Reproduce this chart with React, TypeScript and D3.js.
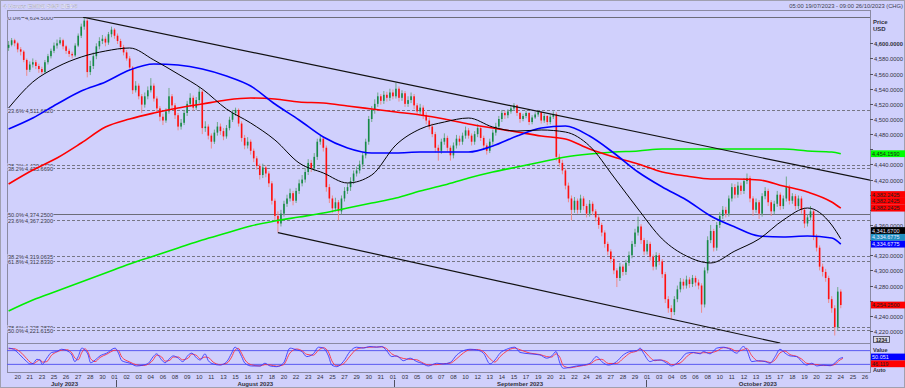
import React, { useEffect, useRef } from "react";
import * as d3 from "d3";

// 4h candles, 19/07/2023 05:00 -> 24/10/2023 (open of each bar = previous close)
const firstOpen = 4594;
const closes = [
  4598, 4604, 4600, 4592, 4589, 4578, 4565, 4572, 4575, 4570,
  4566, 4562, 4575, 4583, 4590, 4597, 4600, 4604, 4596, 4590,
  4586, 4584, 4597, 4610, 4622, 4630, 4562, 4570, 4583, 4596,
  4603, 4606, 4601, 4612, 4618, 4610, 4603, 4595, 4588, 4580,
  4568, 4538, 4544, 4530, 4519, 4530, 4538, 4544, 4527, 4514,
  4503, 4498, 4510, 4530, 4518, 4505, 4490, 4495, 4508, 4520,
  4528, 4515, 4525, 4536, 4488, 4490, 4478, 4470, 4482, 4490,
  4484, 4477, 4488, 4499, 4508, 4512, 4494, 4475, 4465, 4470,
  4458, 4448, 4438, 4426, 4436, 4428, 4415, 4392, 4372, 4362,
  4375, 4388, 4395, 4402, 4392, 4405, 4415, 4420, 4430, 4442,
  4435, 4450, 4470, 4474, 4462, 4410, 4395, 4382, 4390, 4378,
  4395, 4405, 4410, 4418, 4428, 4432, 4440, 4452, 4470, 4500,
  4512, 4520, 4530, 4524, 4532, 4528, 4535, 4530, 4540, 4528,
  4534, 4520, 4525, 4530, 4518, 4510, 4515, 4505, 4498, 4490,
  4480, 4462, 4458, 4470, 4475, 4462, 4452, 4465, 4474, 4470,
  4478, 4485, 4478, 4470, 4480, 4488, 4475, 4465, 4458, 4470,
  4482, 4490, 4500, 4508, 4505, 4510, 4514, 4518, 4508, 4500,
  4504, 4508, 4496, 4502, 4506, 4509, 4498, 4504, 4496, 4503,
  4506, 4450, 4442, 4432, 4412, 4395, 4380, 4392, 4380, 4395,
  4385, 4375, 4388, 4378, 4370, 4360, 4350, 4335, 4325, 4315,
  4300, 4290, 4305, 4298, 4310, 4320, 4335, 4350, 4358, 4340,
  4325, 4335, 4318, 4305, 4320, 4312, 4295, 4262, 4250, 4245,
  4262, 4275, 4285, 4280, 4288, 4282, 4290, 4284, 4280, 4255,
  4300, 4340, 4352, 4330, 4360, 4372, 4380, 4375, 4395, 4410,
  4400, 4412, 4405, 4418, 4422, 4395, 4380, 4390, 4375, 4398,
  4405, 4390, 4378, 4388, 4400, 4385, 4395, 4410, 4392, 4398,
  4385, 4395, 4380, 4362, 4370, 4378, 4345, 4330, 4305, 4298,
  4290, 4262, 4250, 4225, 4272, 4254.25,
];
const highs = [
  4603, 4607, 4606, 4602, 4595, 4591, 4580, 4576, 4580, 4578,
  4573, 4569, 4578, 4586, 4593, 4601, 4605, 4608, 4606, 4598,
  4593, 4589, 4600, 4613, 4626, 4634.5, 4632, 4577, 4588, 4600,
  4608, 4611, 4609, 4615, 4622, 4620, 4613, 4606, 4598, 4591,
  4583, 4570, 4550, 4547, 4533, 4535, 4543, 4554, 4547, 4530,
  4517, 4507, 4514, 4541, 4533, 4521, 4508, 4500, 4512, 4524,
  4534, 4531, 4529, 4542, 4539, 4497, 4493, 4481, 4486, 4496,
  4494, 4488, 4492, 4503, 4512, 4515, 4514, 4497, 4479, 4476,
  4473, 4461, 4451, 4441, 4441, 4439, 4431, 4418, 4395, 4378,
  4380, 4392, 4400, 4408, 4405, 4409, 4420, 4426, 4435, 4447,
  4446, 4455, 4474, 4478, 4477, 4465, 4414, 4399, 4396, 4393,
  4399, 4410, 4415, 4423, 4432, 4437, 4445, 4456, 4474, 4504,
  4517, 4526, 4535, 4533, 4537, 4536, 4540, 4539, 4548, 4543,
  4538, 4537, 4530, 4535, 4533, 4521, 4520, 4518, 4509, 4502,
  4494, 4483, 4466, 4474, 4481, 4478, 4465, 4469, 4479, 4478,
  4482, 4490, 4488, 4481, 4484, 4493, 4491, 4478, 4468, 4474,
  4486, 4495, 4504, 4512, 4511, 4513, 4517, 4521, 4519, 4509,
  4507, 4511, 4509, 4505, 4509, 4512, 4510, 4507, 4505, 4506,
  4510, 4509, 4454, 4446, 4435, 4416, 4399, 4397, 4395, 4400,
  4398, 4388, 4393, 4391, 4381, 4373, 4363, 4353, 4338, 4328,
  4318, 4303, 4310, 4308, 4314, 4325, 4339, 4355, 4371, 4361,
  4343, 4340, 4338, 4321, 4324, 4323, 4315, 4298, 4266, 4254,
  4266, 4280, 4290, 4289, 4293, 4291, 4294, 4293, 4288, 4283,
  4304, 4345, 4360, 4355, 4364, 4377, 4385, 4384, 4399, 4415,
  4414, 4417, 4416, 4422, 4428, 4425, 4398, 4395, 4393, 4402,
  4410, 4408, 4393, 4392, 4405, 4403, 4399, 4424, 4413, 4402,
  4401, 4399, 4398, 4383, 4374, 4385, 4380, 4348, 4333, 4309,
  4302, 4293, 4266, 4254, 4278, 4275,
];
const lows = [
  4590, 4596, 4596, 4588, 4584, 4575, 4557, 4562, 4568, 4566,
  4561, 4559, 4560, 4572, 4580, 4587, 4593, 4598, 4592, 4586,
  4582, 4580, 4582, 4595, 4607, 4618, 4555, 4558, 4566, 4579,
  4592, 4599, 4596, 4598, 4608, 4606, 4599, 4591, 4584, 4577,
  4564, 4533, 4535, 4526, 4508, 4515, 4526, 4535, 4523, 4509,
  4497, 4492, 4495, 4507, 4513, 4500, 4485, 4486, 4492, 4504,
  4516, 4511, 4512, 4521, 4480, 4483, 4473, 4461, 4467, 4478,
  4479, 4472, 4474, 4485, 4496, 4504, 4490, 4470, 4460, 4461,
  4453, 4443, 4433, 4420, 4422, 4423, 4410, 4387, 4366, 4350,
  4358, 4371, 4384, 4391, 4386, 4389, 4401, 4411, 4416, 4426,
  4430, 4431, 4446, 4466, 4457, 4404, 4389, 4376, 4378, 4366,
  4374, 4391, 4401, 4405, 4414, 4424, 4428, 4436, 4448, 4466,
  4496, 4507, 4516, 4519, 4520, 4523, 4524, 4526, 4527, 4523,
  4524, 4516, 4516, 4521, 4513, 4506, 4506, 4500, 4493, 4486,
  4476, 4456, 4445, 4454, 4466, 4457, 4445, 4448, 4461, 4465,
  4466, 4474, 4474, 4465, 4466, 4476, 4471, 4460, 4453, 4455,
  4466, 4478, 4486, 4496, 4500, 4501, 4507, 4511, 4504, 4495,
  4497, 4501, 4492, 4493, 4500, 4503, 4494, 4495, 4492, 4493,
  4500, 4445, 4437, 4427, 4407, 4390, 4366, 4376, 4375, 4376,
  4380, 4370, 4371, 4373, 4365, 4355, 4345, 4330, 4320, 4310,
  4295, 4278, 4286, 4293, 4294, 4306, 4316, 4331, 4346, 4335,
  4320, 4321, 4313, 4300, 4301, 4307, 4290, 4257, 4244, 4236,
  4241, 4258, 4271, 4275, 4276, 4277, 4278, 4279, 4275, 4244,
  4251, 4296, 4336, 4325, 4326, 4356, 4368, 4370, 4371, 4391,
  4395, 4396, 4400, 4401, 4414, 4390, 4372, 4376, 4368, 4371,
  4394, 4385, 4372, 4374, 4384, 4380, 4381, 4391, 4387, 4388,
  4380, 4381, 4375, 4356, 4358, 4366, 4340, 4325, 4300, 4292,
  4285, 4257, 4244, 4214, 4220, 4250,
];

// moving averages read at every 8th bar
const maIdx = [0, 8, 16, 24, 32, 40, 48, 56, 64, 72, 80, 88, 96, 104, 112, 120, 128, 136,
  144, 152, 160, 168, 176, 184, 192, 200, 208, 216, 224, 232, 240, 248, 256, 264, 272, 275];
const maBlack = [4514.5, 4548.9, 4568.7, 4581.9, 4589.8, 4593.8, 4577.9, 4559.4, 4539.6, 4513.2,
  4494.7, 4472.3, 4441.9, 4428.7, 4415.5, 4426, 4465.7, 4486.8, 4496, 4501.3, 4489.4, 4484.1,
  4485.5, 4482.8, 4464.3, 4423.4, 4381.1, 4341.5, 4319, 4309.8, 4325.6, 4341.5, 4366.6, 4382.4,
  4360, 4341.67];
const maBlue = [4486.8, 4501.3, 4519.8, 4537, 4548.9, 4564.7, 4572.7, 4571.3, 4566.1, 4556.8,
  4543.6, 4519.8, 4498.7, 4476.2, 4461.7, 4455.1, 4455.1, 4456.4, 4456.4, 4456.4, 4464.3, 4477.5,
  4488.1, 4490.8, 4477.5, 4455.1, 4430, 4410.2, 4393, 4371.9, 4357.3, 4345.4, 4344.1, 4345.4,
  4342.8, 4334.6775];
const maRed = [4414.1, 4432.6, 4448.5, 4468.3, 4489.4, 4500, 4507.9, 4514.5, 4519.8, 4525.1,
  4527.7, 4526.4, 4522.5, 4521.1, 4517.2, 4513.2, 4509.2, 4505.3, 4500, 4493.4, 4488.1, 4482.8,
  4477.5, 4473.6, 4460.4, 4449.8, 4440.6, 4430, 4424.7, 4420.7, 4420.7, 4419.4, 4411.5, 4403.6,
  4390.4, 4382.2425];
const maGreen = [4246.4, 4260.9, 4272.8, 4284.7, 4296.6, 4308.5, 4319, 4329.6, 4340.2, 4349.4,
  4358.7, 4365.3, 4370.5, 4375.8, 4382.4, 4389, 4395.6, 4404.9, 4412.8, 4422.1, 4430, 4436.6,
  4443.2, 4449.8, 4453.8, 4456.4, 4457.7, 4460.4, 4460.4, 4460.4, 4460.4, 4460.4, 4460.4, 4457.7,
  4456.4, 4454.159];

// fibonacci retracement levels
const fibPct = ["0.0%", "23.6%", "38.2%", "38.2%", "50.0%", "23.6%", "38.2%", "61.8%", "78.6%", "50.0%"];
const fibValues = [4634.5, 4511.662, 4439.672, 4435.669, 4374.25, 4367.23, 4319.0635, 4312.833, 4225.387, 4221.615];

// trend channel: [bar, price] anchors
const upperTrend = [[24.6, 4634.5], [284.7, 4419.1]];
const lowerTrend = [[89, 4350], [255, 4204]];

// stochastic oscillator (bar index, %K, %D)
const oscIdx = [0, 1.6, 3.8, 6, 7.1, 8.2, 9.3, 10.4, 11.1, 12.6, 14.2, 15.9, 17.5, 19.2, 20.9, 21.9,
  23, 24.2, 25.2, 26.3, 27.1, 28.6, 30.2, 32.4, 35.2, 36.3, 37.4, 40.1, 42.3, 44.5, 46.2, 47.8, 48.9,
  50.6, 51.7, 53.3, 54.4, 56.1, 57.5, 59.4, 60.5, 62.2, 63.3, 64.9, 66, 67.6, 69.9, 72.1, 73.7, 74.8,
  75.9, 77, 78.1, 80.3, 83.1, 84.7, 86.4, 88.6, 90.8, 93, 95.2, 96.9, 98.5, 100.7, 102.4, 104, 105.7,
  106.8, 108.4, 110.6, 112.8, 115, 117.2, 119.4, 121.6, 123.3, 124.9, 126.6, 128.3, 130.4, 132.7,
  134.9, 136.5, 138.7, 141.5, 143.6, 145.9, 148.1, 150.3, 152.5, 154.7, 156.9, 159.1, 160.7, 162.4,
  164.6, 167.3, 169, 172.3, 175.6, 177.8, 179.5, 180.9, 182.2, 183.3, 185.5, 187.7, 189.9, 192.1,
  194.3, 196, 198.2, 200.9, 203.1, 205.3, 207.6, 208.7, 209.8, 212, 213.6, 215.3, 217.5, 219.1,
  221.9, 224.1, 226.3, 228.5, 229.6, 231.8, 234, 236.2, 238.4, 240.6, 242.8, 243.9, 245.6, 247.8,
  250, 251.6, 253.3, 254.9, 256.6, 258.2, 260.4, 262.1, 263.7, 265.4, 267.1, 269.2, 271.5, 273.1,
  274.2, 275.7];
const oscK = [91, 86, 61, 32, 22, 25, 42, 39, 20, 47, 72, 76, 86, 80, 61, 32,
  54, 91, 83, 61, 27, 39, 57, 69, 91, 69, 36, 25, 13, 17, 25, 54, 66,
  39, 27, 47, 57, 47, 32, 61, 69, 47, 39, 66, 36, 22, 17, 32, 69, 95,
  83, 54, 25, 13, 13, 25, 13, 10, 25, 91, 83, 76, 54, 66, 95, 91, 57,
  17, 10, 32, 76, 95, 91, 98, 95, 98, 80, 54, 57, 36, 47,
  32, 25, 13, 25, 22, 28, 61, 80, 86, 83, 69, 22, 39, 69,
  86, 95, 72, 66, 61, 47, 57, 76, 25, 3, 7, 13, 17, 25,
  54, 32, 17, 32, 61, 76, 80, 91, 69, 32, 39, 39, 25, 13,
  39, 69, 72, 66, 76, 66, 91, 95, 86, 69, 98, 83, 32, 36,
  32, 25, 54, 86, 69, 57, 54, 32, 17, 25, 13, 17, 14, 27,
  42, 50.051];
const oscD = [88, 89, 75, 45, 30, 23, 32, 40, 30, 32, 60, 74, 82, 84, 70, 48,
  40, 72, 88, 72, 45, 32, 50, 64, 82, 80, 52, 30, 18, 15, 21, 40, 60,
  52, 34, 38, 52, 52, 40, 48, 65, 58, 44, 52, 50, 30, 19, 25, 52, 82,
  90, 68, 40, 18, 13, 19, 18, 12, 18, 70, 87, 80, 64, 60, 82, 93, 74,
  36, 14, 22, 56, 86, 93, 95, 96, 96, 89, 66, 55, 46, 42,
  40, 29, 18, 19, 23, 25, 45, 70, 84, 85, 76, 44, 30, 54,
  78, 91, 84, 69, 63, 54, 52, 66, 50, 14, 5, 10, 15, 21,
  40, 42, 24, 24, 46, 69, 78, 86, 80, 50, 36, 39, 32, 19,
  26, 54, 71, 69, 71, 71, 78, 93, 90, 78, 84, 90, 58, 34,
  34, 28, 40, 70, 78, 63, 55, 43, 25, 21, 19, 15, 15, 20,
  34, 46.119];

// x axis
const dayLabels = ["20", "21", "23", "25", "26", "27", "28", "30",
  "01", "02", "03", "04", "06", "08", "09", "10", "11", "13", "15", "16", "17", "18", "20", "22", "23",
  "24", "25", "27", "29", "30", "31",
  "01", "03", "05", "06", "07", "08", "10", "12", "13", "14", "15", "17", "19", "20", "21", "22", "24",
  "26", "27", "28", "29",
  "01", "03", "04", "05", "06", "08", "10", "11", "12", "13", "15", "17", "18", "19", "20", "22", "24",
  "25", "26"];
const months = ["July 2023", "August 2023", "September 2023", "October 2023"];
const monthBreaks = [35.5, 127.5, 210.5];

const priceTicks = [4220, 4240, 4260, 4280, 4300, 4320, 4340, 4360, 4380, 4400, 4420, 4440,
  4460, 4480, 4500, 4520, 4540, 4560, 4580, 4600];

// last-value tags on the price axis
const tagValues = [4454.159, 4382.2425, 4382.2425, 4382.2425, 4341.67, 4334.6775, 4334.6775, 4254.25];
const tagColors = ["#00ff00", "#ff0000", "#ff0000", "#ff0000", "#000000", "#1f8fc0", "#0000ff", "#ff0000"];

const FONT = "'Liberation Sans', Arial, sans-serif";

export default function App() {
  const svgRef = useRef<SVGSVGElement>(null);

  useEffect(() => {
    if (!svgRef.current) return;
    const svg = d3.select(svgRef.current);
    svg.selectAll("*").remove();

    const L = 7, R = 870, T = 17, B = 343, OB = 372;
    const bg = "#d0d0fc";
    const frame = "#8a8aa2";

    const x = d3.scaleLinear().domain([0, 283]).range([8.6, 865]);
    const y = d3.scaleLinear().domain([4204.1, 4634.74]).range([B, T]);
    const yo = d3.scaleLinear().domain([-12, 112]).range([371.7, 343.3]);

    svg.append("rect").attr("width", 905).attr("height", 388).attr("fill", bg);

    const defs = svg.append("defs");
    defs.append("clipPath").attr("id", "main-clip")
      .append("rect").attr("x", L).attr("y", T).attr("width", R - L).attr("height", B - T);
    defs.append("clipPath").attr("id", "osc-clip")
      .append("rect").attr("x", L).attr("y", B).attr("width", R - L).attr("height", OB - B);

    // window border + frames
    svg.append("rect").attr("x", 0.5).attr("y", 0.5).attr("width", 904).attr("height", 387)
      .attr("fill", "none").attr("stroke", "#a0a0b0");
    svg.append("rect").attr("x", L + 0.5).attr("y", 10.5).attr("width", R - L).attr("height", OB - 10)
      .attr("fill", "none").attr("stroke", frame);
    svg.append("line").attr("x1", L).attr("x2", R).attr("y1", T + 0.5).attr("y2", T + 0.5).attr("stroke", frame);
    svg.append("line").attr("x1", L).attr("x2", R).attr("y1", B + 0.5).attr("y2", B + 0.5).attr("stroke", frame);

    // title + range
    svg.append("text").attr("x", 3).attr("y", 7.5).text("4 Hours EMINI S&P DEC3")
      .style("font-family", FONT).style("font-size", "6.2px").style("font-weight", "bold")
      .attr("fill", "#ffffff").attr("stroke", "#9090b0").attr("stroke-width", 0.25);
    svg.append("text").attr("x", 903).attr("y", 7.5).attr("text-anchor", "end")
      .text("05:00 19/07/2023 - 09:00 26/10/2023 (CHG)")
      .style("font-family", FONT).style("font-size", "5.8px").attr("fill", "#404050");

    const main = svg.append("g").attr("clip-path", "url(#main-clip)");

    // fib levels
    fibValues.forEach((v, i) => {
      const yy = Math.round(y(v)) + 0.5;
      const solid = fibPct[i] === "0.0%" || (fibPct[i] === "50.0%" && v > 4300);
      main.append("line").attr("x1", L).attr("x2", R).attr("y1", yy).attr("y2", yy)
        .attr("stroke", solid ? "#6c6c78" : "#767684").attr("stroke-width", 1)
        .attr("stroke-dasharray", solid ? null : "3,2");
      const lbl = main.append("g");
      const t1 = lbl.append("text").attr("x", L + 1).attr("y", yy + 2).text(fibPct[i])
        .style("font-family", FONT).style("font-size", "5.6px").attr("fill", "#3a3a48");
      const t2 = lbl.append("text").attr("x", 53).attr("y", yy + 2).attr("text-anchor", "end")
        .text(d3.format(",.4f")(v))
        .style("font-family", FONT).style("font-size", "5.6px").attr("fill", "#3a3a48");
      [t1, t2].forEach((t) => {
        const bb = (t.node() as SVGTextElement).getBBox();
        lbl.insert("rect", "text").attr("x", bb.x - 0.5).attr("y", bb.y + 0.5)
          .attr("width", bb.width + 1).attr("height", bb.height - 1).attr("fill", bg);
      });
    });

    // candles
    const bw = 1.6;
    closes.forEach((c, i) => {
      const o = i === 0 ? firstOpen : closes[i - 1];
      const up = c >= o;
      const cx = x(i);
      main.append("line").attr("x1", cx).attr("x2", cx)
        .attr("y1", y(highs[i])).attr("y2", y(lows[i]))
        .attr("stroke", up ? "#6fa88a" : "#ee8a8a").attr("stroke-width", 1);
      const top = y(Math.max(o, c));
      const h = Math.max(1, Math.abs(y(o) - y(c)));
      main.append("rect").attr("x", cx - bw / 2).attr("y", top).attr("width", bw).attr("height", h)
        .attr("fill", up ? "#168a46" : "#ff1010");
    });

    // moving averages
    const maLine = d3.line<number>().x((_, i) => x(maIdx[i])).y((d) => y(d)).curve(d3.curveMonotoneX);
    const mas: [number[], string, number][] = [
      [maGreen, "#00ee00", 1.6],
      [maRed, "#ff0000", 1.6],
      [maBlue, "#0000ff", 1.6],
      [maBlack, "#000000", 1],
    ];
    mas.forEach(([d, col, w]) => {
      main.append("path").datum(d).attr("d", maLine).attr("fill", "none")
        .attr("stroke", col).attr("stroke-width", w);
    });

    // trend channel
    [upperTrend, lowerTrend].forEach((seg) => {
      main.append("line")
        .attr("x1", x(seg[0][0])).attr("y1", y(seg[0][1]))
        .attr("x2", x(seg[1][0])).attr("y2", y(seg[1][1]))
        .attr("stroke", "#111111").attr("stroke-width", 1.2);
    });

    // value tags, stacked upward where they collide
    const tagH = 6.8;
    const order = d3.range(tagValues.length).sort((a, b) => tagValues[a] - tagValues[b] || b - a);
    let prev = Infinity;
    const centers: number[] = [];
    order.forEach((k) => {
      const c = Math.min(y(tagValues[k]), prev - tagH);
      centers[k] = c;
      prev = c;
    });

    // price axis (labels hidden behind a tag are not drawn)
    const ax = svg.append("g");
    priceTicks.forEach((p) => {
      const yy = Math.round(y(p)) + 0.5;
      ax.append("line").attr("x1", R).attr("x2", R + 3).attr("y1", yy).attr("y2", yy).attr("stroke", "#505060");
      const covered = centers.some((c) => Math.abs(c - y(p)) < 4.5);
      if (covered) return;
      ax.append("text").attr("x", R + 4).attr("y", yy + 2).text(d3.format(",.4f")(p))
        .style("font-family", FONT).style("font-size", "5.8px")
        .style("font-weight", p === 4600 ? "bold" : "normal").attr("fill", "#303040");
    });
    ax.append("text").attr("x", R + 3).attr("y", 24).text("Price")
      .style("font-family", FONT).style("font-size", "6px").style("font-weight", "bold").attr("fill", "#303040");
    ax.append("text").attr("x", R + 3).attr("y", 31).text("USD")
      .style("font-family", FONT).style("font-size", "6px").style("font-weight", "bold").attr("fill", "#303040");

    tagValues.forEach((v, k) => {
      const col = tagColors[k];
      const dark = col === "#000000" || col === "#0000ff" || col === "#1f8fc0";
      svg.append("rect").attr("x", R + 1).attr("y", centers[k] - tagH / 2).attr("width", 905 - R - 1)
        .attr("height", tagH).attr("fill", col);
      svg.append("text").attr("x", R + 2).attr("y", centers[k] + 2).text(d3.format(",.4f")(v))
        .style("font-family", FONT).style("font-size", "5.5px")
        .attr("fill", dark ? "#e8e8ff" : "#202020");
    });

    // "1234" box
    svg.append("rect").attr("x", R + 3.5).attr("y", 336.5).attr("width", 16).attr("height", 6)
      .attr("fill", "#d8d8e8").attr("stroke", "#404050").attr("stroke-width", 0.8);
    svg.append("text").attr("x", R + 11.5).attr("y", 341.6).attr("text-anchor", "middle").text("1234")
      .style("font-family", FONT).style("font-size", "5.2px").style("font-weight", "bold").attr("fill", "#202020");

    // oscillator panel
    const osc = svg.append("g").attr("clip-path", "url(#osc-clip)");
    [80, 20].forEach((v) => {
      osc.append("line").attr("x1", L).attr("x2", R).attr("y1", yo(v)).attr("y2", yo(v))
        .attr("stroke", "#5a5af0").attr("stroke-width", 1);
    });
    const oscLine = d3.line<number>().x((_, i) => x(oscIdx[i])).y((d) => yo(d)).curve(d3.curveMonotoneX);
    osc.append("path").datum(oscD).attr("d", oscLine).attr("fill", "none").attr("stroke", "#ff3040").attr("stroke-width", 0.9);
    osc.append("path").datum(oscK).attr("d", oscLine).attr("fill", "none").attr("stroke", "#3a3aff").attr("stroke-width", 0.9);

    svg.append("text").attr("x", R + 3).attr("y", 351.5).text("Value")
      .style("font-family", FONT).style("font-size", "5.6px").style("font-weight", "bold").attr("fill", "#303040");
    const kY = yo(oscK[oscK.length - 1]) - 0.5;
    const oscTags: [number, string, string, number][] = [
      [oscK[oscK.length - 1], "#0000ff", "#e8e8ff", kY],
      [oscD[oscD.length - 1], "#ff0000", "#202020", kY + 6.8],
    ];
    oscTags.forEach(([v, col, tc, cy]) => {
      svg.append("rect").attr("x", R + 1).attr("y", cy - 3.4).attr("width", 905 - R - 1).attr("height", 6.8).attr("fill", col);
      svg.append("text").attr("x", R + 2).attr("y", cy + 2).text(d3.format(".3f")(v))
        .style("font-family", FONT).style("font-size", "5.5px").attr("fill", tc);
    });
    svg.append("text").attr("x", R + 3).attr("y", 372).text("Auto")
      .style("font-family", FONT).style("font-size", "5.6px").style("font-weight", "bold").attr("fill", "#303040");

    // date axis
    dayLabels.forEach((d, k) => {
      svg.append("text").attr("x", x(3 + 4 * k)).attr("y", 379).attr("text-anchor", "middle").text(d)
        .style("font-family", FONT).style("font-size", "5.8px").attr("fill", "#303040");
    });
    const bounds = [L, ...monthBreaks.map((m) => x(m)), R];
    months.forEach((m, k) => {
      svg.append("text").attr("x", (bounds[k] + bounds[k + 1]) / 2 + (k === 0 ? 3 : 0)).attr("y", 386)
        .attr("text-anchor", "middle").text(m)
        .style("font-family", FONT).style("font-size", "6px").style("font-weight", "bold").attr("fill", "#303040");
    });
    monthBreaks.forEach((m) => {
      const xx = Math.round(x(m)) + 0.5;
      svg.append("line").attr("x1", xx).attr("x2", xx).attr("y1", 380).attr("y2", 387).attr("stroke", "#505060");
    });
  }, []);

  return (
    <svg
      ref={svgRef}
      width={905}
      height={388}
      style={{ position: "absolute", left: 0, top: 0, display: "block" }}
    />
  );
}
